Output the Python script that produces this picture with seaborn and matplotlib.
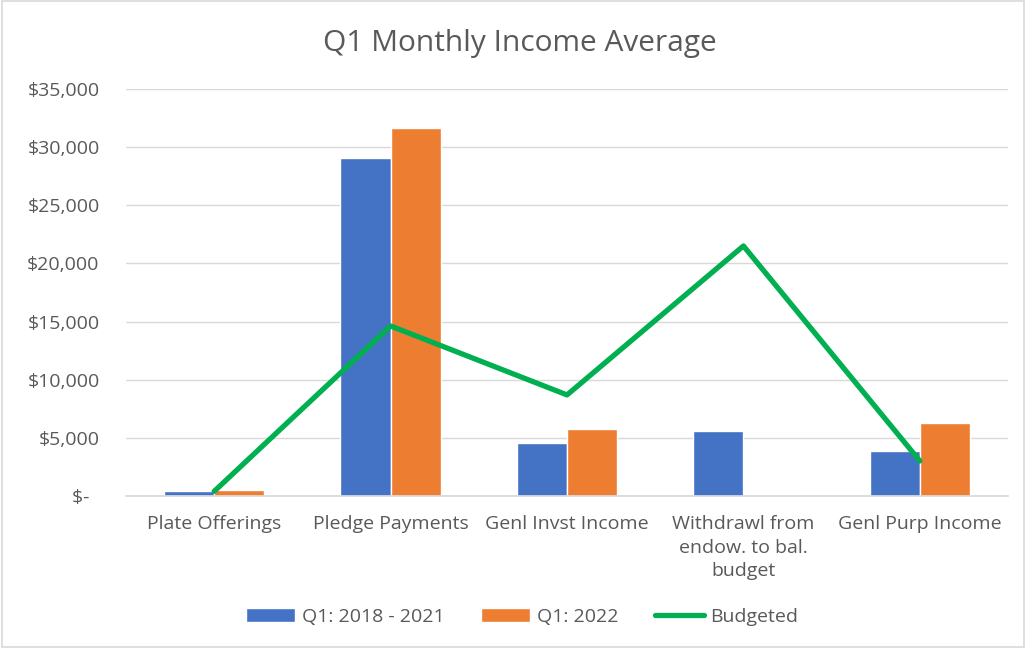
import pandas as pd
import seaborn as sns
import matplotlib.pyplot as plt
from matplotlib.ticker import FuncFormatter
from matplotlib.patches import Rectangle

# Datos
categories = ["Plate Offerings", "Pledge Payments", "Genl Invst Income",
              "Withdrawl from\nendow. to bal.\nbudget", "Genl Purp Income"]
q1_2018_2021 = [430, 29070, 4580, 5590, 3900]
q1_2022 = [520, 31650, 5760, 0, 6300]
budgeted = [400, 14620, 8690, 21500, 3010]
series_names = ["Q1: 2018 - 2021", "Q1: 2022"]

sns.set_theme(style="white")
plt.rcParams['font.family'] = ['Open Sans', 'DejaVu Sans']
text_color = '#595959'

bars = pd.DataFrame({
    'Category': categories * 2,
    'Value': q1_2018_2021 + q1_2022,
    'Series': [series_names[0]] * 5 + [series_names[1]] * 5,
})

fig = plt.figure(figsize=(10.26, 6.48), dpi=100)
ax = fig.add_axes([0.1228, 0.2346, 0.8597, 0.6281])

sns.barplot(data=bars, x='Category', y='Value', hue='Series',
            palette=['#4472C4', '#ED7D31'], width=0.57, gap=0,
            saturation=1, ax=ax, zorder=2)
sns.lineplot(x=categories, y=budgeted, sort=False, color='#00B050',
             linewidth=3.8, ax=ax, label='Budgeted', zorder=3)

ax.set_ylim(0, 35000)
ax.set_xlim(-0.5, 4.5)
ax.set_yticks(range(0, 35001, 5000))
ax.yaxis.set_major_formatter(FuncFormatter(lambda v, p: '$-  ' if v == 0 else f'${v:,.0f}'))
ax.grid(axis='y', color='#D9D9D9', linewidth=1, zorder=0)
ax.set_axisbelow(True)
for s in ['top', 'right', 'left']:
    ax.spines[s].set_visible(False)
ax.spines['bottom'].set_color('#D9D9D9')
ax.set_xlabel('')
ax.set_ylabel('')
ax.tick_params(axis='both', length=0, labelsize=14, colors=text_color)
ax.tick_params(axis='x', pad=14)
ax.tick_params(axis='y', pad=19)
for lbl in ax.get_xticklabels():
    lbl.set_linespacing(1.38)

fig.suptitle('Q1 Monthly Income Average', x=0.507, y=1 - 44 / 648, va='center',
             fontsize=21.5, color=text_color)

handles, labels = ax.get_legend_handles_labels()
ax.legend(handles, labels, loc='center', bbox_to_anchor=(0.509, 31 / 648),
          bbox_transform=fig.transFigure, ncol=3, frameon=False,
          fontsize=14, labelcolor=text_color, handlelength=2.5,
          handleheight=0.75, columnspacing=1.9, handletextpad=0.35)

fig.patches.append(Rectangle((0.002, 0.002), 0.996, 0.996, transform=fig.transFigure,
                             fill=False, edgecolor='#D9D9D9', linewidth=1.2))

fig.savefig('out.png', dpi=100)
